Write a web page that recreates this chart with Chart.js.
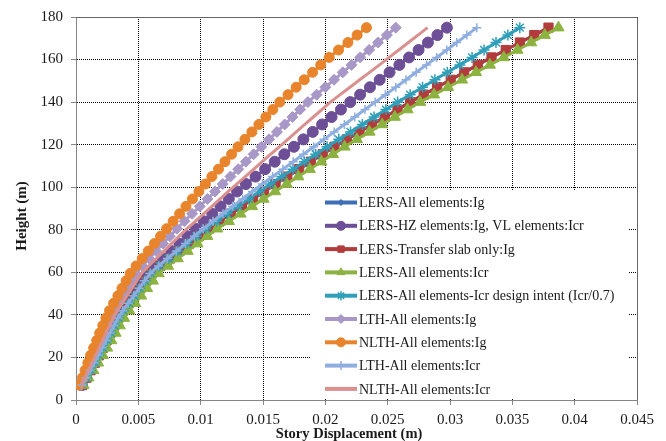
<!DOCTYPE html>
<html>
<head>
<meta charset="utf-8">
<script src="https://cdn.jsdelivr.net/npm/chart.js@4.4.1/dist/chart.umd.min.js"></script>
<style>
  html, body { margin: 0; padding: 0; background: #fff; }
</style>
</head>
<body>
<canvas id="c" width="666" height="441"></canvas>
<script>
// story heights (m), one point per floor
var heights = [7, 10.5, 14, 17.5, 21, 24.5, 28, 31.5, 35, 38.5, 42, 45.5, 49, 52.5, 56, 59.5,
  63, 66.5, 70, 73.5, 77, 80.5, 84, 87.5, 91, 94.5, 98, 101.5, 105, 108.5, 112, 115.5, 119,
  122.5, 126, 129.5, 133, 136.5, 140, 143.5, 147, 150.5, 154, 157.5, 161, 164.5, 168, 171.5, 175];

// story displacement (m)
var lersHzIgVlIcr = [0.00045, 0.00076, 0.00107, 0.00138, 0.00169, 0.00199, 0.00230, 0.00261, 0.00291, 0.00322,
  0.00359, 0.00401, 0.00443, 0.00485, 0.00527, 0.00569, 0.00631, 0.00697, 0.00763, 0.00829, 0.00894,
  0.00960, 0.01026, 0.01093, 0.01159, 0.01226, 0.01292, 0.01363, 0.01440, 0.01517, 0.01594, 0.01671, 0.01748,
  0.01824, 0.01899, 0.01974, 0.02050, 0.02125, 0.02200, 0.02279, 0.02358, 0.02436, 0.02515, 0.02594,
  0.02672, 0.02748, 0.02823, 0.02899, 0.02975];
var lersTransferIg = [0.00050, 0.00084, 0.00117, 0.00151, 0.00184, 0.00214, 0.00245, 0.00276, 0.00306, 0.00337,
  0.00376, 0.00422, 0.00467, 0.00513, 0.00558, 0.00604, 0.00676, 0.00753, 0.00830, 0.00907, 0.00984,
  0.01063, 0.01152, 0.01241, 0.01331, 0.01420, 0.01509, 0.01601, 0.01695, 0.01790, 0.01884, 0.01979, 0.02073,
  0.02173, 0.02274, 0.02376, 0.02477, 0.02579, 0.02680, 0.02789, 0.02897, 0.03006, 0.03114, 0.03223,
  0.03333, 0.03447, 0.03561, 0.03676, 0.03790];
// not visible in the picture: lies under the transfer slab curve
var lersAllIg = lersTransferIg;
var lersAllIcr = [0.00060, 0.00099, 0.00138, 0.00177, 0.00215, 0.00249, 0.00283, 0.00317, 0.00351, 0.00385,
  0.00427, 0.00474, 0.00522, 0.00569, 0.00616, 0.00663, 0.00738, 0.00816, 0.00895, 0.00974, 0.01053,
  0.01133, 0.01226, 0.01319, 0.01412, 0.01504, 0.01597, 0.01690, 0.01783, 0.01875, 0.01968, 0.02061, 0.02154,
  0.02253, 0.02354, 0.02456, 0.02557, 0.02659, 0.02760, 0.02872, 0.02984, 0.03096, 0.03208, 0.03320,
  0.03431, 0.03541, 0.03651, 0.03760, 0.03870];
var lersDesignIntent = [0.00050, 0.00084, 0.00117, 0.00151, 0.00184, 0.00216, 0.00247, 0.00279, 0.00310, 0.00342,
  0.00380, 0.00424, 0.00468, 0.00511, 0.00555, 0.00599, 0.00669, 0.00743, 0.00818, 0.00892, 0.00966,
  0.01042, 0.01128, 0.01214, 0.01299, 0.01385, 0.01471, 0.01559, 0.01650, 0.01741, 0.01832, 0.01923, 0.02014,
  0.02108, 0.02202, 0.02297, 0.02391, 0.02486, 0.02580, 0.02680, 0.02780, 0.02879, 0.02979, 0.03079,
  0.03177, 0.03273, 0.03369, 0.03464, 0.03560];
var lthIg = [0.00038, 0.00064, 0.00090, 0.00116, 0.00143, 0.00169, 0.00195, 0.00221, 0.00248, 0.00274,
  0.00305, 0.00340, 0.00375, 0.00410, 0.00445, 0.00480, 0.00532, 0.00587, 0.00643, 0.00697, 0.00753,
  0.00809, 0.00870, 0.00931, 0.00993, 0.01054, 0.01115, 0.01177, 0.01239, 0.01301, 0.01363, 0.01425, 0.01487,
  0.01549, 0.01612, 0.01674, 0.01736, 0.01798, 0.01860, 0.01930, 0.02000, 0.02070, 0.02140, 0.02210,
  0.02280, 0.02351, 0.02422, 0.02494, 0.02565];
var nlthIg = [0.00030, 0.00052, 0.00073, 0.00095, 0.00117, 0.00142, 0.00166, 0.00190, 0.00215, 0.00240,
  0.00269, 0.00302, 0.00336, 0.00369, 0.00402, 0.00435, 0.00482, 0.00531, 0.00580, 0.00629, 0.00678,
  0.00727, 0.00779, 0.00831, 0.00882, 0.00934, 0.00986, 0.01038, 0.01090, 0.01143, 0.01195, 0.01248, 0.01300,
  0.01355, 0.01411, 0.01467, 0.01523, 0.01579, 0.01635, 0.01701, 0.01766, 0.01831, 0.01898, 0.01963,
  0.02031, 0.02106, 0.02181, 0.02255, 0.02330];
var lthIcr = [0.00045, 0.00079, 0.00112, 0.00146, 0.00179, 0.00211, 0.00242, 0.00274, 0.00305, 0.00337,
  0.00375, 0.00419, 0.00463, 0.00506, 0.00550, 0.00594, 0.00662, 0.00733, 0.00805, 0.00877, 0.00949,
  0.01021, 0.01099, 0.01179, 0.01257, 0.01336, 0.01415, 0.01495, 0.01577, 0.01660, 0.01742, 0.01824, 0.01907,
  0.01989, 0.02071, 0.02153, 0.02236, 0.02318, 0.02400, 0.02482, 0.02565, 0.02647, 0.02729, 0.02811,
  0.02893, 0.02974, 0.03054, 0.03135, 0.03215];
var nlthIcr = [0.00040, 0.00070, 0.00099, 0.00129, 0.00158, 0.00186, 0.00214, 0.00242, 0.00270, 0.00298,
  0.00332, 0.00371, 0.00409, 0.00448, 0.00486, 0.00525, 0.00583, 0.00644, 0.00705, 0.00766, 0.00828,
  0.00890, 0.00957, 0.01023, 0.01090, 0.01157, 0.01222, 0.01289, 0.01358, 0.01426, 0.01494, 0.01562, 0.01631,
  0.01699, 0.01767, 0.01835, 0.01904, 0.01972, 0.02040, 0.02119, 0.02198, 0.02276, 0.02355, 0.02434,
  0.02512, 0.02589, 0.02666, 0.02743, 0.02820];

var seriesNames = [
  'LERS-All elements:Ig',
  'LERS-HZ elements:Ig, VL elements:Icr',
  'LERS-Transfer slab only:Ig',
  'LERS-All elements:Icr',
  'LERS-All elements-Icr design intent (Icr/0.7)',
  'LTH-All elements:Ig',
  'NLTH-All elements:Ig',
  'LTH-All elements:Icr',
  'NLTH-All elements:Icr'
];

var xTickLabels = ['0', '0.005', '0.01', '0.015', '0.02', '0.025', '0.03', '0.035', '0.04', '0.045'];
var yTickLabels = ['0', '20', '40', '60', '80', '100', '120', '140', '160', '180'];

var serif = "'Liberation Serif', 'Times New Roman', serif";

function pts(xs) {
  return xs.map(function (v, i) { return { x: v, y: heights[i] }; });
}

function series(i, xs, color, style, radius, ptBorder) {
  return {
    label: seriesNames[i],
    data: pts(xs),
    borderColor: color,
    backgroundColor: color,
    borderWidth: 3,
    pointStyle: style,
    pointRadius: radius,
    pointBorderWidth: ptBorder,
    pointBackgroundColor: color,
    pointBorderColor: color,
    showLine: true,
    order: 9 - i   // later series on top, like the original
  };
}

var datasets = [
  series(0, lersAllIg, '#3e6eb5', 'rectRot', 3, 1),
  series(1, lersHzIgVlIcr, '#6c4f96', 'circle', 5.5, 1),
  series(2, lersTransferIg, '#b23b3b', 'rect', 6.5, 1),
  series(3, lersAllIcr, '#8cb23f', 'triangle', 6.5, 1),
  series(4, lersDesignIntent, '#2f9fba', 'star', 5.5, 1.5),
  series(5, lthIg, '#a898c8', 'rectRot', 5.5, 1),
  series(6, nlthIg, '#e8842c', 'circle', 5, 1),
  series(7, lthIcr, '#8eaee0', 'cross', 4.5, 1.5),
  series(8, nlthIcr, '#d9908f', 'circle', 0, 0)
];

// legend inside the plot, titles, top/right frame
var extras = {
  id: 'extras',
  afterDraw: function (chart) {
    var ctx = chart.ctx, a = chart.chartArea;
    ctx.save();

    ctx.strokeStyle = '#666';
    ctx.lineWidth = 1;
    ctx.beginPath();
    ctx.moveTo(a.left, a.top + 0.5);
    ctx.lineTo(a.right + 0.5, a.top + 0.5);
    ctx.lineTo(a.right + 0.5, a.bottom);
    ctx.stroke();

    var bx = a.left + 234, by = a.top + 173, bw = a.right - 9 - bx, bh = a.bottom - 1 - by;
    ctx.fillStyle = '#fff';
    ctx.fillRect(bx, by, bw, bh);

    ctx.font = '14px ' + serif;
    ctx.textBaseline = 'middle';
    ctx.textAlign = 'left';
    chart.data.datasets.forEach(function (ds, i) {
      var y = by + 12.5 + i * 23.3;
      ctx.strokeStyle = ds.borderColor;
      ctx.lineWidth = 4;
      ctx.beginPath();
      ctx.moveTo(bx + 15, y);
      ctx.lineTo(bx + 47, y);
      ctx.stroke();
      if (ds.pointRadius > 0) {
        ctx.fillStyle = ds.borderColor;
        ctx.lineWidth = ds.pointBorderWidth;
        Chart.helpers.drawPoint(ctx, {
          pointStyle: ds.pointStyle,
          radius: Math.min(ds.pointRadius, 4.5),
          rotation: 0,
          borderWidth: ds.pointBorderWidth
        }, bx + 31, y);
      }
      ctx.fillStyle = '#1a1a1a';
      ctx.fillText(ds.label, bx + 49, y + 1);
    });

    ctx.fillStyle = '#1a1a1a';
    ctx.font = 'bold 14.5px ' + serif;
    ctx.textAlign = 'center';
    ctx.fillText('Story Displacement (m)', 349, 434);

    ctx.translate(22, 216);
    ctx.rotate(-Math.PI / 2);
    ctx.font = 'bold 15px ' + serif;
    ctx.fillText('Height (m)', 0, 0);

    ctx.restore();
  }
};

var grid = { color: '#000', lineWidth: 1, tickLength: 5, tickColor: '#888' };

new Chart(document.getElementById('c'), {
  type: 'scatter',
  data: { datasets: datasets },
  plugins: [extras],
  options: {
    responsive: false,
    animation: false,
    layout: { padding: { top: 15, right: 29, left: 0, bottom: 0 } },
    plugins: { legend: { display: false }, tooltip: { enabled: false } },
    scales: {
      x: {
        type: 'linear',
        min: 0,
        max: 0.045,
        afterFit: function (s) { s.height = 41; },
        grid: grid,
        border: { color: '#858585', width: 1, dash: [1, 1] },
        ticks: {
          stepSize: 0.005,
          padding: 6,
          color: '#1a1a1a',
          font: { family: serif, size: 15 },
          maxRotation: 0,
          callback: function (v, i) { return xTickLabels[i] !== undefined ? xTickLabels[i] : v; }
        }
      },
      y: {
        type: 'linear',
        min: 0,
        max: 180,
        afterFit: function (s) { s.width = 76; },
        grid: grid,
        border: { color: '#858585', width: 1, dash: [1, 1] },
        ticks: {
          stepSize: 20,
          padding: 8,
          color: '#1a1a1a',
          font: { family: serif, size: 15 },
          callback: function (v, i) { return yTickLabels[i] !== undefined ? yTickLabels[i] : v; }
        }
      }
    }
  }
});
</script>
</body>
</html>
